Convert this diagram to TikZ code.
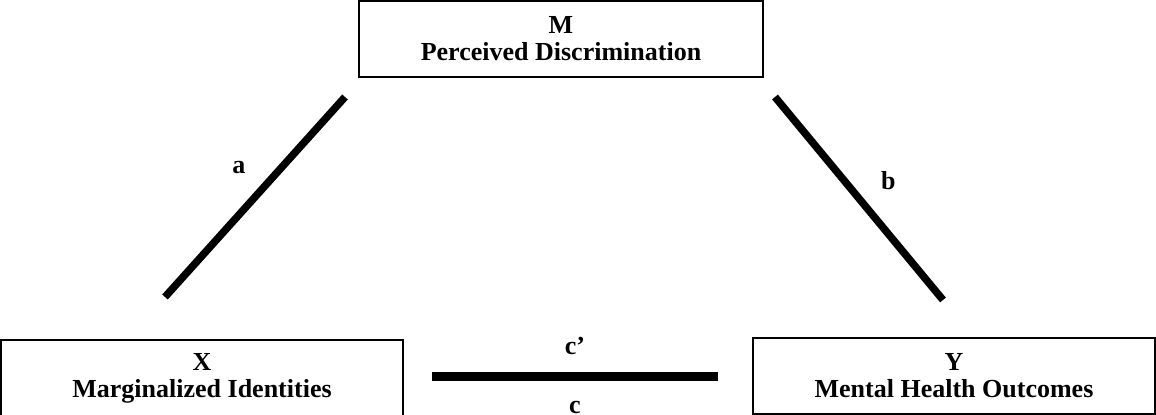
\documentclass[tikz,border=0pt]{standalone}
\usepackage{fontspec}
\setmainfont{Liberation Serif}
\usetikzlibrary{positioning}

\begin{document}
\begin{tikzpicture}[
  x=0.02cm, y=0.02cm,
  font=\fontsize{14.8}{15.4}\selectfont\bfseries,
  var/.style={
    draw, line width=0.85pt, align=center,
    minimum width=8.04cm, minimum height=1.52cm,
    inner sep=0pt
  },
  link/.style={line width=0.15cm},
  direct/.style={line width=0.18cm},
  lbl/.style={inner sep=0pt}
]
\useasboundingbox (0,0) rectangle (1156,415);
% variables
\node[var, minimum width=8.08cm] (M) at (561,376) {M\\Perceived Discrimination};
\node[var] (X) at (202,37) {X\\Marginalized Identities};
\node[var] (Y) at (954,39) {Y\\Mental Health Outcomes};
% path ends
\coordinate (a1) at (165,118);
\coordinate (a2) at (345,318);
\coordinate (b1) at (775,318);
\coordinate (b2) at (943,115);
\coordinate (c1) at (432,38);
\coordinate (c2) at (718,38);
% paths
\draw[link] (a1) -- node[lbl, pos=0.54, above left=0.23cm and 0.26cm] {a} (a2);
\draw[link] (b1) -- node[lbl, pos=0.52, above right=0.18cm and 0.30cm] {b} (b2);
\draw[direct] (c1) -- node[lbl, above=0.36cm] {c’} node[lbl, below=0.4cm] {c} (c2);
\end{tikzpicture}
\end{document}
